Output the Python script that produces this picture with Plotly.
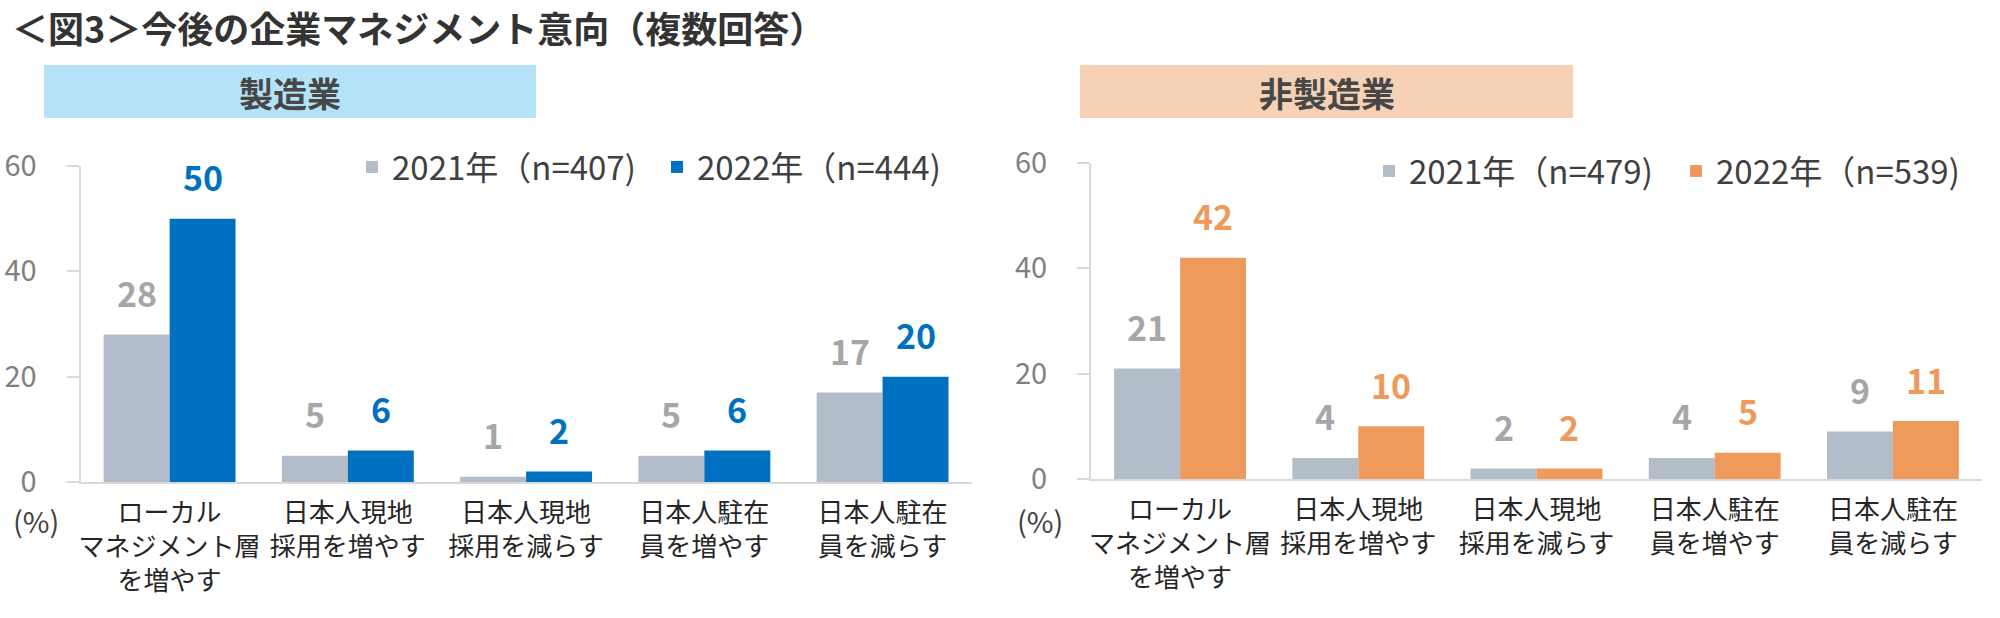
import plotly.graph_objects as go

# ---------------- data ----------------
categories = ["ローカル<br>マネジメント層<br>を増やす", "日本人現地<br>採用を増やす", "日本人現地<br>採用を減らす",
              "日本人駐在<br>員を増やす", "日本人駐在<br>員を減らす"]
mfg_2021 = [28, 5, 1, 5, 17]
mfg_2022 = [50, 6, 2, 6, 20]
nonmfg_2021 = [21, 4, 2, 4, 9]
nonmfg_2022 = [42, 10, 2, 5, 11]
mfg_names = ["2021年（n=407)", "2022年（n=444)"]
nonmfg_names = ["2021年（n=479)", "2022年（n=539)"]
title_text = "＜図3＞今後の企業マネジメント意向（複数回答）"
panel_titles = ["製造業", "非製造業"]
y_ticks = [0, 20, 40, 60]

# ---------------- styles ----------------
FONT = "Noto Sans CJK JP"
W, H = 2000, 618
GRAY = "#B2BDC9"
BLUE = "#0070C0"
ORANGE = "#EE9A5D"
GRAY_LBL = "#A6A6A6"
AXIS = "#D9D9D9"
BW = 0.37

def px_x(p):
    return p / W

def px_y(p):
    return 1 - p / H

fig = go.Figure()
xs = list(range(len(categories)))

panels = [
    dict(xa="x", ya="y", lg="legend", v=(mfg_2021, mfg_2022), names=mfg_names, c2=BLUE),
    dict(xa="x2", ya="y2", lg="legend2", v=(nonmfg_2021, nonmfg_2022), names=nonmfg_names, c2=ORANGE),
]

annotations = []
for p in panels:
    v1, v2 = p["v"]
    fig.add_trace(go.Bar(x=xs, y=v1, name=p["names"][0], marker=dict(color=GRAY, line=dict(width=0)),
                         offset=-BW, width=BW, xaxis=p["xa"], yaxis=p["ya"], legend=p["lg"],
                         hoverinfo="y"))
    fig.add_trace(go.Bar(x=xs, y=v2, name=p["names"][1], marker=dict(color=p["c2"], line=dict(width=0)),
                         offset=0, width=BW, xaxis=p["xa"], yaxis=p["ya"], legend=p["lg"],
                         hoverinfo="y"))
    for i, (a, b) in enumerate(zip(v1, v2)):
        annotations.append(dict(x=i - BW / 2, y=a, xref=p["xa"], yref=p["ya"], text=f"{a:.0f}",
                                showarrow=False, yanchor="middle", yshift=42,
                                font=dict(family=FONT, size=34, color=GRAY_LBL, weight="bold")))
        annotations.append(dict(x=i + BW / 2, y=b, xref=p["xa"], yref=p["ya"], text=f"{b:.0f}",
                                showarrow=False, yanchor="middle", yshift=42,
                                font=dict(family=FONT, size=34, color=p["c2"], weight="bold")))

# title
annotations.append(dict(x=px_x(10), y=px_y(27), xref="paper", yref="paper", xanchor="left", yanchor="middle",
                        text=title_text, showarrow=False,
                        font=dict(family=FONT, size=36, color="#333333", weight="bold")))
# panel headers
header_boxes = [(44, 536, "#B4E2F8"), (1080, 1573, "#F7D1B5")]
shapes = []
for (x0, x1, col), t in zip(header_boxes, panel_titles):
    shapes.append(dict(type="rect", xref="paper", yref="paper", x0=px_x(x0), x1=px_x(x1),
                       y0=px_y(118), y1=px_y(65), fillcolor=col, line=dict(width=0), layer="below"))
    annotations.append(dict(x=px_x((x0 + x1) / 2), y=px_y(92), xref="paper", yref="paper",
                            text=t, showarrow=False, xanchor="center", yanchor="middle",
                            font=dict(family=FONT, size=34, color="#474747", weight="bold")))
# (%) labels
for xc in (36, 1040):
    annotations.append(dict(x=px_x(xc), y=px_y(520), xref="paper", yref="paper", text="(%)",
                            showarrow=False, xanchor="center", yanchor="middle",
                            font=dict(family=FONT, size=29, color="#404040")))

xcommon = dict(range=[-0.5, len(categories) - 0.5], tickvals=xs, ticktext=categories,
               showline=True, linecolor=AXIS, linewidth=2, ticks="", showgrid=False, zeroline=False,
               tickfont=dict(family=FONT, size=26, color="#262626"), ticklabelstandoff=7,
               fixedrange=True)
ycommon = dict(range=[0, 60], tickvals=y_ticks, showline=True, linecolor=AXIS, linewidth=2,
               ticks="outside", ticklen=12, tickwidth=2, tickcolor=AXIS, showgrid=False, zeroline=False,
               tickfont=dict(family=FONT, size=29, color="#808080"), ticklabelstandoff=24,
               fixedrange=True)

fig.update_layout(
    width=W, height=H,
    margin=dict(l=0, r=0, t=0, b=0, autoexpand=False),
    paper_bgcolor="white", plot_bgcolor="white",
    barmode="overlay",
    showlegend=True,
    xaxis=dict(domain=[px_x(80.5), px_x(971.7)], anchor="y", **xcommon),
    yaxis=dict(domain=[px_y(482), px_y(166)], anchor="x", **ycommon),
    xaxis2=dict(domain=[px_x(1091), px_x(1982)], anchor="y2", **xcommon),
    yaxis2=dict(domain=[px_y(479), px_y(163)], anchor="x2", **ycommon),
    legend=dict(orientation="h", x=px_x(352), y=px_y(167), xanchor="left", yanchor="middle",
                font=dict(family=FONT, size=33, color="#404040"), bgcolor="rgba(0,0,0,0)",
                entrywidth=260, itemclick=False, itemdoubleclick=False),
    legend2=dict(orientation="h", x=px_x(1369), y=px_y(171), xanchor="left", yanchor="middle",
                 font=dict(family=FONT, size=33, color="#404040"), bgcolor="rgba(0,0,0,0)",
                 entrywidth=262, itemclick=False, itemdoubleclick=False),
    annotations=annotations,
    shapes=shapes,
)

fig.write_html("out.html", config={"displayModeBar": False},
               post_script="document.body.style.margin='0';document.body.style.overflow='hidden';")
